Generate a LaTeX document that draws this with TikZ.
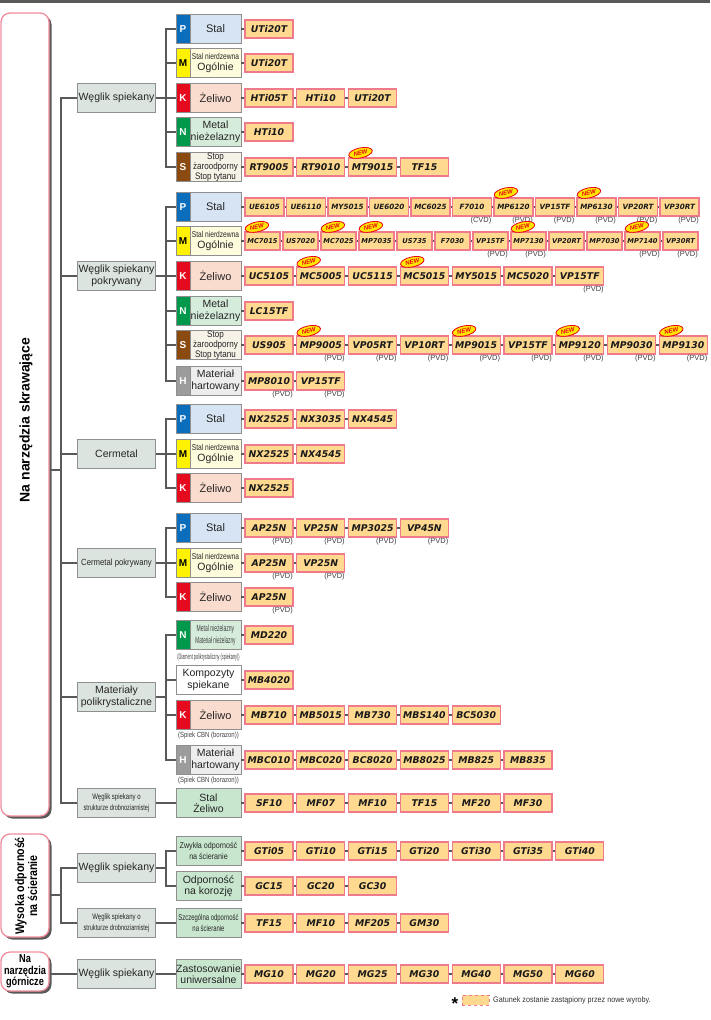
\documentclass[tikz,border=0pt]{standalone}
\usepackage{fontspec}
\setmainfont{Liberation Sans}
\newfontfamily\prodfont{DejaVu Sans}
\usepackage{graphicx}
\usetikzlibrary{shapes.geometric,shadows,calc}

\definecolor{conn}{HTML}{595959}
\definecolor{prodfill}{HTML}{FFD98F}
\definecolor{prodedge}{HTML}{EE7A8C}
\definecolor{pinkb}{HTML}{F08C9C}
\definecolor{lvfill}{HTML}{DCE4DF}
\definecolor{grayedge}{HTML}{8F8F8F}
\definecolor{greenbox}{HTML}{C8E6CE}
\definecolor{tP}{HTML}{0A6EBD}\definecolor{bP}{HTML}{D6E4F3}
\definecolor{tM}{HTML}{FFF200}\definecolor{bM}{HTML}{FFFBDD}
\definecolor{tK}{HTML}{E50A1E}\definecolor{bK}{HTML}{FADCCF}
\definecolor{tN}{HTML}{00984A}\definecolor{bN}{HTML}{D6ECDA}
\definecolor{tS}{HTML}{8A4A10}\definecolor{bS}{HTML}{F6F2E7}
\definecolor{tH}{HTML}{9C9C9C}\definecolor{bH}{HTML}{EDEDED}
\definecolor{newred}{HTML}{E60012}
\definecolor{newyel}{HTML}{FFE600}

\newcommand\nw[2]{\scalebox{#1}[1]{#2}}
\newcommand\snO{{\fontsize{8.5}{8.5}\selectfont\nw{0.78}{Stal nierdzewna}}\\[-1pt]{\fontsize{10.5}{10.5}\selectfont Og\'olnie}}

% #1 source node, #2 row id, #3 y, #4 width, #5 pitch, #6 list, #7 extra style
\newcommand\prodrow[7]{%
  \foreach \t [count=\i from 0] in {#6} {%
    \node[prod, minimum width=#4pt, #7] (#2-\i) at ({245+#4/2+\i*#5}, #3) {\t};
    \ifnum\i>0 \pgfmathtruncatemacro\p{\i-1}\draw[link] (#2-\p.east) -- (#2-\i.west);\fi
  }%
  \draw[link] (#1.east) -- (#2-0.west);
}
\newcommand\pvd[2][PVD]{\node[notetext, anchor=north east] (#2-ann) at (#2.south east) {(#1)};}
\newcommand\newb[1]{\node[newbadge] (#1-new) at ([shift={(12.5,-4.5)}]#1.north west) {NEW};}
% #1 opts, #2 name, #3 y, #4 letter, #5 tab colour, #6 body colour, #7 text
\newcommand\cat[7][]{%
  \node[tabbox, fill=#5] (#2) at (183,#3) {#4};
  \node[bodybox, fill=#6, #1] (#2-b) at (215.5,#3) {#7};
}

\begin{document}
\begin{tikzpicture}[x=1pt,y=-1pt,
  link/.style={draw=conn, line width=2.6pt},
  prod/.style={draw=prodedge, fill=prodfill, line width=1.2pt, minimum height=18pt, inner sep=0pt,
    font=\prodfont\bfseries\itshape\fontsize{9.3}{9.3}\selectfont, text=black!90},
  notetext/.style={font=\fontsize{7.5}{8}\selectfont, text=black!75, inner sep=0.5pt},
  newbadge/.style={ellipse, draw=newred, fill=newyel, line width=0.8pt, minimum width=24pt,
    minimum height=10pt, inner sep=0pt, rotate=12, text=newred, font=\bfseries\itshape\fontsize{6}{6}\selectfont},
  lvone/.style={draw=grayedge, fill=lvfill, line width=0.8pt, minimum width=78pt, minimum height=29pt,
    inner sep=1pt, align=center, font=\fontsize{10.5}{11.5}\selectfont, text=black!85},
  tabbox/.style={draw=grayedge, line width=0.8pt, minimum width=14pt, minimum height=29pt, inner sep=0pt,
    text=white, font=\bfseries\fontsize{10}{10}\selectfont},
  bodybox/.style={draw=grayedge, line width=0.8pt, minimum width=51pt, minimum height=29pt, inner sep=0pt,
    align=center, font=\fontsize{11}{11.5}\selectfont, text=black!85},
  plainbox/.style={draw=grayedge, line width=0.8pt, minimum width=65pt, minimum height=29pt, inner sep=0pt,
    align=center, font=\fontsize{10.5}{11.5}\selectfont, text=black!85},
  bigbox/.style={draw=pinkb, fill=white, line width=1.3pt, rounded corners=9pt, minimum width=48pt,
    inner sep=0pt, general shadow={fill=black!65, shadow xshift=2.5pt, shadow yshift=-2.5pt}},
  narrowA/.style={font=\prodfont\bfseries\itshape\fontsize{7.2}{7.2}\selectfont},
  narrowB/.style={font=\prodfont\bfseries\itshape\fontsize{6.7}{6.7}\selectfont}
]
\useasboundingbox (0,0) rectangle (710,1020);
\fill[conn] (0,0) rectangle (710,3);

% ---------- left category boxes ----------
\node[bigbox, minimum height=803pt] (main) at (25,414.5) {};
\node[rotate=90, font=\bfseries\fontsize{14}{16}\selectfont] (main-t) at (26,420) {Na narzędzia skrawające};
\node[bigbox, minimum height=103pt] (wear) at (25,885.5) {};
\node[rotate=90, align=center, font=\bfseries\fontsize{12.5}{13}\selectfont] (wear-t) at (26,886)
  {\nw{0.85}{Wysoka odporność}\\\nw{0.85}{na ścieranie}};
\node[bigbox, minimum height=39pt] (mine) at (25,971.5) {};
\node[align=center, font=\bfseries\fontsize{11.5}{11.5}\selectfont] (mine-t) at (25,971.5)
  {\nw{0.8}{Na}\\\nw{0.8}{narzędzia}\\\nw{0.8}{górnicze}};

% ---------- level 1 ----------
\node[lvone] (w1) at (116.5,98) {Węglik spiekany};
\node[lvone] (w2) at (116.5,276) {Węglik spiekany\\pokrywany};
\node[lvone] (w3) at (116.5,454) {Cermetal};
\node[lvone, font=\fontsize{9}{10}\selectfont] (w4) at (116.5,563) {\nw{0.86}{Cermetal pokrywany}};
\node[lvone] (w5) at (116.5,697) {Materiały\\polikrystaliczne};
\node[lvone, font=\fontsize{8}{11}\selectfont] (w6) at (116.5,803) {\nw{0.75}{Węglik spiekany o}\\\nw{0.7}{strukturze drobnoziarnistej}};
\node[lvone] (v1) at (116.5,868) {Węglik spiekany};
\node[lvone, font=\fontsize{8}{11}\selectfont] (v2) at (116.5,923) {\nw{0.75}{Węglik spiekany o}\\\nw{0.7}{strukturze drobnoziarnistej}};
\node[lvone] (m1) at (116.5,974) {Węglik spiekany};

\coordinate (jm) at (61,470);
\draw[link] (main.east |- jm) -- (jm);
\draw[link] (w1.west) -| (jm) |- (w6.west);
\foreach \n in {w2,w3,w4,w5} \draw[link] (\n.west -| jm) -- (\n.west);
\coordinate (jv) at (61,895);
\draw[link] (wear.east |- jv) -- (jv);
\draw[link] (v1.west) -| (jv) |- (v2.west);
\draw[link] (mine.east |- m1.west) -- (m1.west);

% ---------- group 1 ----------
\cat{g1p}{29}{P}{tP}{bP}{Stal}
\cat{g1m}{63}{\textcolor{black}{M}}{tM}{bM}{\snO}
\cat{g1k}{98}{K}{tK}{bK}{Żeliwo}
\cat[font=\fontsize{10.5}{11.5}\selectfont]{g1n}{132}{N}{tN}{bN}{Metal\\nieżelazny}
\cat[font=\fontsize{9.5}{8.3}\selectfont]{g1s}{167}{S}{tS}{bS}{\nw{0.85}{Stop}\\\nw{0.85}{żaroodporny}\\\nw{0.85}{Stop tytanu}}
\coordinate (j1) at (166,98);
\draw[link] (w1.east) -- (j1);
\draw[link] (g1p.west) -| (j1) |- (g1s.west);
\foreach \n in {g1m,g1k,g1n} \draw[link] (\n.west -| j1) -- (\n.west);
\prodrow{g1p-b}{r1p}{29}{48}{51.8}{UTi20T}{}
\prodrow{g1m-b}{r1m}{63}{48}{51.8}{UTi20T}{}
\prodrow{g1k-b}{r1k}{98}{48}{51.8}{HTi05T,HTi10,UTi20T}{}
\prodrow{g1n-b}{r1n}{132}{48}{51.8}{HTi10}{}
\prodrow{g1s-b}{r1s}{167}{48}{51.8}{RT9005,RT9010,MT9015,TF15}{}
\newb{r1s-2}

% ---------- group 2 ----------
\cat{g2p}{207}{P}{tP}{bP}{Stal}
\cat{g2m}{241}{\textcolor{black}{M}}{tM}{bM}{\snO}
\cat{g2k}{276}{K}{tK}{bK}{Żeliwo}
\cat[font=\fontsize{10.5}{11.5}\selectfont]{g2n}{311}{N}{tN}{bN}{Metal\\nieżelazny}
\cat[font=\fontsize{9.5}{8.3}\selectfont]{g2s}{345}{S}{tS}{bS}{\nw{0.85}{Stop}\\\nw{0.85}{żaroodporny}\\\nw{0.85}{Stop tytanu}}
\cat[font=\fontsize{10.5}{11.5}\selectfont]{g2h}{381}{H}{tH}{bH}{Materiał\\hartowany}
\coordinate (j2) at (166,276);
\draw[link] (w2.east) -- (j2);
\draw[link] (g2p.west) -| (j2) |- (g2h.west);
\foreach \n in {g2m,g2k,g2n,g2s} \draw[link] (\n.west -| j2) -- (\n.west);
\prodrow{g2p-b}{r2p}{207}{39}{41.5}{UE6105,UE6110,MY5015,UE6020,MC6025,F7010,MP6120,VP15TF,MP6130,VP20RT,VP30RT}{narrowA}
\pvd[CVD]{r2p-5}
\foreach \k in {6,...,10} {\pvd{r2p-\k}}
\newb{r2p-6}\newb{r2p-8}
\prodrow{g2m-b}{r2m}{241}{35}{38}{MC7015,US7020,MC7025,MP7035,US735,F7030,VP15TF,MP7130,VP20RT,MP7030,MP7140,VP30RT}{narrowB}
\foreach \k in {6,7,10,11} {\pvd{r2m-\k}}
\foreach \k in {0,2,3,7,10} {\newb{r2m-\k}}
\prodrow{g2k-b}{r2k}{276}{48}{51.8}{UC5105,MC5005,UC5115,MC5015,MY5015,MC5020,VP15TF}{}
\pvd{r2k-6}
\newb{r2k-1}\newb{r2k-3}
\prodrow{g2n-b}{r2n}{311}{48}{51.8}{LC15TF}{}
\prodrow{g2s-b}{r2s}{345}{48}{51.8}{US905,MP9005,VP05RT,VP10RT,MP9015,VP15TF,MP9120,MP9030,MP9130}{}
\foreach \k in {1,...,8} {\pvd{r2s-\k}}
\foreach \k in {1,4,6,8} {\newb{r2s-\k}}
\prodrow{g2h-b}{r2h}{381}{48}{51.8}{MP8010,VP15TF}{}
\pvd{r2h-0}\pvd{r2h-1}

% ---------- group 3 ----------
\cat{g3p}{419}{P}{tP}{bP}{Stal}
\cat{g3m}{454}{\textcolor{black}{M}}{tM}{bM}{\snO}
\cat{g3k}{488}{K}{tK}{bK}{Żeliwo}
\coordinate (j3) at (166,454);
\draw[link] (w3.east) -- (j3);
\draw[link] (g3p.west) -| (j3) |- (g3k.west);
\draw[link] (g3m.west -| j3) -- (g3m.west);
\prodrow{g3p-b}{r3p}{419}{48}{51.8}{NX2525,NX3035,NX4545}{}
\prodrow{g3m-b}{r3m}{454}{48}{51.8}{NX2525,NX4545}{}
\prodrow{g3k-b}{r3k}{488}{48}{51.8}{NX2525}{}

% ---------- group 4 ----------
\cat{g4p}{528}{P}{tP}{bP}{Stal}
\cat{g4m}{563}{\textcolor{black}{M}}{tM}{bM}{\snO}
\cat{g4k}{597}{K}{tK}{bK}{Żeliwo}
\coordinate (j4) at (166,563);
\draw[link] (w4.east) -- (j4);
\draw[link] (g4p.west) -| (j4) |- (g4k.west);
\draw[link] (g4m.west -| j4) -- (g4m.west);
\prodrow{g4p-b}{r4p}{528}{48}{51.8}{AP25N,VP25N,MP3025,VP45N}{}
\foreach \k in {0,...,3} {\pvd{r4p-\k}}
\prodrow{g4m-b}{r4m}{563}{48}{51.8}{AP25N,VP25N}{}
\pvd{r4m-0}\pvd{r4m-1}
\prodrow{g4k-b}{r4k}{597}{48}{51.8}{AP25N}{}
\pvd{r4k-0}

% ---------- group 5 ----------
\cat[font=\fontsize{9}{12}\selectfont, text=black!75]{g5n}{635}{N}{tN}{bN}{\nw{0.56}{Metal nieżelazny}\\\nw{0.52}{Materiał nieżelazny}}
\node[notetext, font=\fontsize{7.8}{8}\selectfont] (g5n-lab) at (208.5,657) {\nw{0.49}{(Diament polikrystaliczny (spiekany))}};
\node[plainbox, fill=white] (g5c) at (208.5,680) {Kompozyty\\spiekane};
\cat{g5k}{715}{K}{tK}{bK}{Żeliwo}
\node[notetext] (g5k-lab) at (208.5,736) {\nw{0.8}{(Spiek CBN (borazon))}};
\cat[font=\fontsize{10.5}{11.5}\selectfont]{g5h}{760}{H}{tH}{bH}{Materiał\\hartowany}
\node[notetext] (g5h-lab) at (208.5,781) {\nw{0.8}{(Spiek CBN (borazon))}};
\coordinate (j5) at (166,697);
\draw[link] (w5.east) -- (j5);
\draw[link] (g5n.west) -| (j5) |- (g5h.west);
\draw[link] (g5c.west -| j5) -- (g5c.west);
\draw[link] (g5k.west -| j5) -- (g5k.west);
\prodrow{g5n-b}{r5n}{635}{48}{51.8}{MD220}{}
\prodrow{g5c}{r5c}{680}{48}{51.8}{MB4020}{}
\prodrow{g5k-b}{r5k}{715}{48}{51.8}{MB710,MB5015,MB730,MBS140,BC5030}{}
\prodrow{g5h-b}{r5h}{760}{48}{51.8}{MBC010,MBC020,BC8020,MB8025,MB825,MB835}{}

% ---------- group 6 ----------
\node[plainbox, fill=greenbox] (g6) at (208.5,803) {Stal\\Żeliwo};
\draw[link] (w6.east) -- (g6.west);
\prodrow{g6}{r6}{803}{48}{51.8}{SF10,MF07,MF10,TF15,MF20,MF30}{}

% ---------- wear resistant ----------
\node[plainbox, fill=greenbox, font=\fontsize{8.5}{11}\selectfont] (h1) at (208.5,851) {\nw{0.84}{Zwykła odporność}\\\nw{0.84}{na ścieranie}};
\node[plainbox, fill=greenbox] (h2) at (208.5,886) {Odporność\\na korozję};
\node[plainbox, fill=greenbox, font=\fontsize{8.5}{11}\selectfont] (h3) at (208.5,923) {\nw{0.7}{Szczególna odporność}\\\nw{0.7}{na ścieranie}};
\node[plainbox, fill=greenbox] (h4) at (208.5,974) {Zastosowanie\\uniwersalne};
\coordinate (jh) at (166,868);
\draw[link] (v1.east) -- (jh);
\draw[link] (h1.west) -| (jh) |- (h2.west);
\draw[link] (v2.east) -- (h3.west);
\draw[link] (m1.east) -- (h4.west);
\prodrow{h1}{s1}{851}{48}{51.8}{GTi05,GTi10,GTi15,GTi20,GTi30,GTi35,GTi40}{}
\prodrow{h2}{s2}{886}{48}{51.8}{GC15,GC20,GC30}{}
\prodrow{h3}{s3}{923}{48}{51.8}{TF15,MF10,MF205,GM30}{}
\prodrow{h4}{s4}{974}{48}{51.8}{MG10,MG20,MG25,MG30,MG40,MG50,MG60}{}

% ---------- legend ----------
\node[font=\bfseries\fontsize{17}{17}\selectfont, inner sep=0pt] (leg-star) at (455,1004) {*};
\node[draw=prodedge, dashed, fill=prodfill, minimum width=27pt, minimum height=10pt, inner sep=0pt, line width=0.8pt] (leg-box) at (475.5,1000) {};
\node[anchor=west, font=\fontsize{8}{8}\selectfont, inner sep=0pt, text=black!80] (leg-text) at (493,1000) {\nw{0.9}{Gatunek zostanie zastąpiony przez nowe wyroby.}};
\end{tikzpicture}
\end{document}
